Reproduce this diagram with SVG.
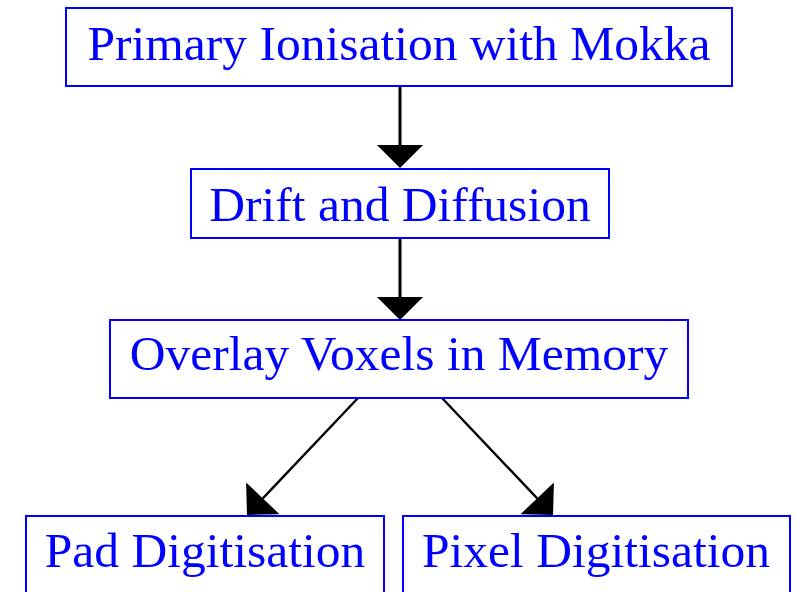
<svg xmlns="http://www.w3.org/2000/svg" width="800" height="592" viewBox="0 0 800 592">
  <style>
    .box { fill: #ffffff; stroke: #0000ff; stroke-width: 2; }
    .label { font-family: "Liberation Serif", "Times New Roman", serif; font-size: 49.5px; fill: #0000ff; text-anchor: middle; }
    .edge { stroke: #000000; stroke-width: 3; fill: none; marker-end: url(#head); }
    .edge.diag { stroke-width: 2.4; }
  </style>
  <defs>
    <marker id="head" markerUnits="userSpaceOnUse" markerWidth="24" markerHeight="48" viewBox="0 -24 24 48" refX="0" refY="0" orient="auto" overflow="visible">
      <path d="M0,-23 L23,0 L0,23 Z" fill="#000000"/>
    </marker>
  </defs>
  <rect width="800" height="592" fill="#ffffff"/>

  <!-- connectors: drawn first so the boxes cover the arrow tips -->
  <g id="connectors">
    <line class="edge" x1="400" y1="86" x2="400" y2="145"/>
    <line class="edge" x1="400" y1="238" x2="400" y2="297"/>
    <line class="edge diag" x1="358" y1="398" x2="262.8" y2="498.3"/>
    <line class="edge diag" x1="442" y1="398" x2="537.2" y2="498.3"/>
  </g>

  <g id="primary-ionisation">
    <rect class="box" x="66" y="8" width="666" height="78"/>
    <text class="label" x="399" y="60">Primary Ionisation with Mokka</text>
  </g>
  <g id="drift-diffusion">
    <rect class="box" x="191" y="169" width="418" height="69"/>
    <text class="label" x="400" y="221">Drift and Diffusion</text>
  </g>
  <g id="overlay-voxels">
    <rect class="box" x="110" y="320" width="578" height="78"/>
    <text class="label" x="399" y="370">Overlay Voxels in Memory</text>
  </g>
  <g id="pad-digitisation">
    <rect class="box" x="26" y="516" width="358" height="90"/>
    <text class="label" x="205" y="567">Pad Digitisation</text>
  </g>
  <g id="pixel-digitisation">
    <rect class="box" x="403" y="516" width="387" height="90"/>
    <text class="label" x="596" y="567">Pixel Digitisation</text>
  </g>
</svg>
